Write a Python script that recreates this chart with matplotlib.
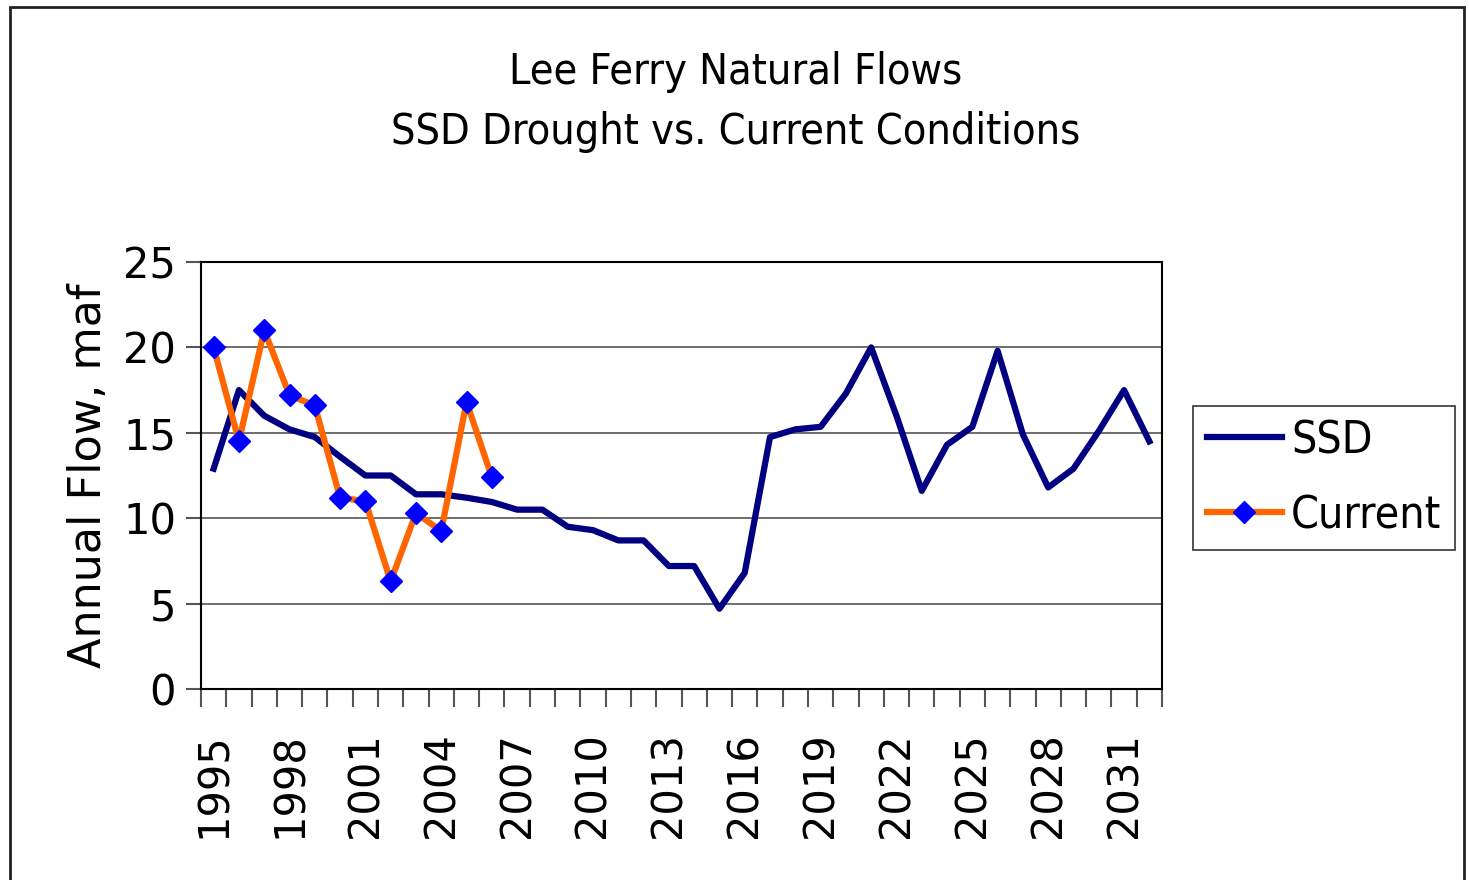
import matplotlib.pyplot as plt
from matplotlib.patches import Rectangle
import numpy as np

# years on the category axis
years = list(range(1995, 2033))

# SSD drought sequence (maf)
ssd = [12.9, 17.5, 16.0, 15.2, 14.75, 13.6, 12.5, 12.5, 11.4, 11.4,
       11.2, 10.95, 10.5, 10.5, 9.5, 9.3, 8.7, 8.7, 7.2, 7.2,
       4.7, 6.8, 14.75, 15.2, 15.35, 17.3, 20.0, 16.0, 11.6, 14.3,
       15.35, 19.8, 14.9, 11.8, 12.9, 15.1, 17.5, 14.5]

# current conditions 1995-2006 (maf)
current = [20.0, 14.5, 21.0, 17.2, 16.6, 11.2, 11.0, 6.3, 10.3, 9.25,
           16.8, 12.4]

tick_years = years[::3]
yticks = [0, 5, 10, 15, 20, 25]

fig = plt.figure(figsize=(14.69, 8.8), dpi=100)
ax = fig.add_axes([201 / 1469, 1 - 689 / 880, (1162 - 201) / 1469, (689 - 262) / 880])

x = np.arange(len(years))
ax.plot(x, ssd, color='#000080', lw=4.5, label='SSD', zorder=3)
ax.plot(x[:len(current)], current, color='#FF6600', lw=4.5, marker='D', markersize=11,
        markerfacecolor='#0000FF', markeredgecolor='#0000FF', label='Current', zorder=4)

ax.set_xlim(-0.5, len(years) - 0.5)
ax.set_ylim(0, 25)
ax.set_yticks(yticks)
ax.yaxis.grid(True, color='#555555', lw=1.2)
ax.set_axisbelow(True)

# labels centred on categories, tick marks between them
ax.set_xticks([years.index(y) for y in tick_years])
ax.set_xticklabels([str(y) for y in tick_years], rotation=90, fontsize=30)
ax.set_xticks(np.arange(len(years) + 1) - 0.5, minor=True)
ax.tick_params(axis='x', which='major', length=0, pad=31)
ax.tick_params(axis='x', which='minor', length=13, width=1.5, color='#555555', direction='out')
ax.tick_params(axis='y', labelsize=30, length=11, width=1.5, color='#555555', pad=7)

for s in ax.spines.values():
    s.set_linewidth(1.5)
    s.set_color('black')

ax.set_ylabel('Annual Flow, maf', fontsize=32, labelpad=9)

fig.text(736 / 1469, 1 - 72 / 880, 'Lee Ferry Natural Flows', ha='center', va='center',
         fontsize=31, fontstretch='condensed')
fig.text(736 / 1469, 1 - 132 / 880, 'SSD Drought vs. Current Conditions', ha='center',
         va='center', fontsize=31, fontstretch='condensed')

leg = fig.legend(loc='center', bbox_to_anchor=(1324 / 1469, 1 - 478 / 880),
                 prop={'size': 32, 'stretch': 'condensed'}, handlelength=1.7,
                 handletextpad=0.2, labelspacing=0.72, borderpad=0.3,
                 fancybox=False, edgecolor='#333333', framealpha=1)
leg.get_frame().set_linewidth(1.2)

fig.patches.append(Rectangle((10 / 1469, -0.05), (1464 - 10) / 1469, 1 - 7 / 880 + 0.05,
                             transform=fig.transFigure, fill=False, edgecolor='#222222',
                             lw=2, zorder=0))

fig.savefig('out.png', dpi=100)
